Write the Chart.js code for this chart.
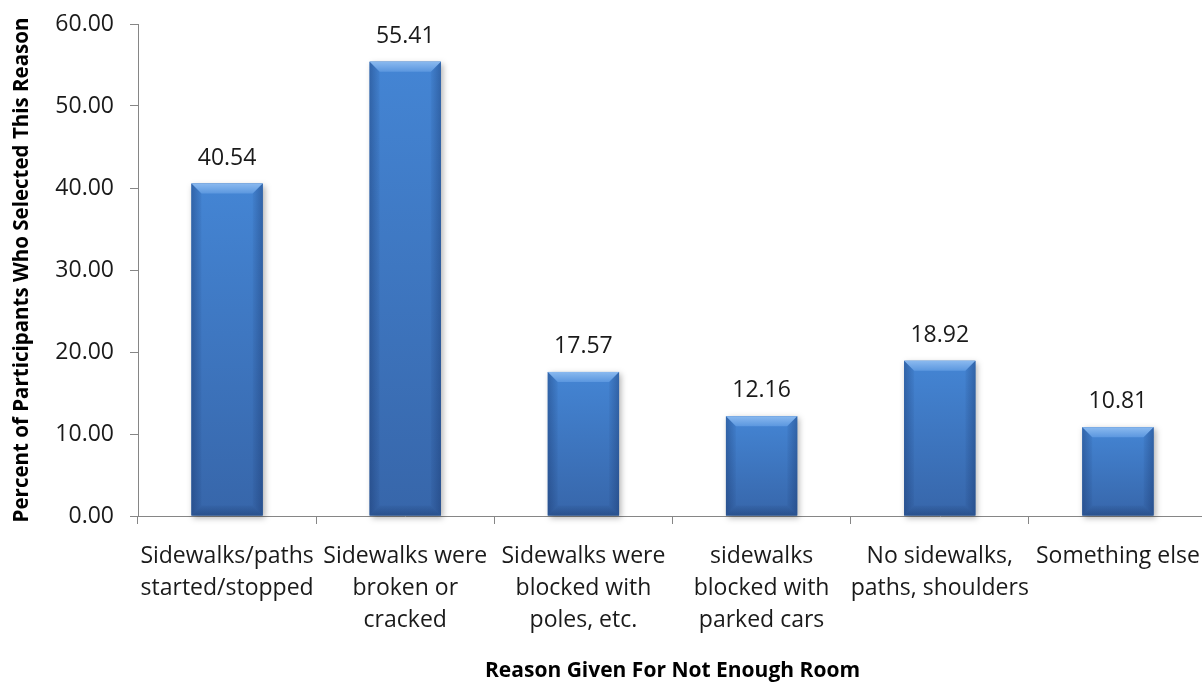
<!DOCTYPE html>
<html>
<head>
<meta charset="utf-8">
<script src="https://cdn.jsdelivr.net/npm/chart.js@4.4.0/dist/chart.umd.min.js"></script>
<style>
    html, body { margin: 0; padding: 0; background: #fff; overflow: hidden; }
    #wrap { width: 1212px; height: 688px; }
</style>
</head>
<body>
<div id="wrap"><canvas id="chart"></canvas></div>
<script>
// Категории и значения
const reasons = [
    ['Sidewalks/paths', 'started/stopped'],
    ['Sidewalks were', 'broken or', 'cracked'],
    ['Sidewalks were', 'blocked with', 'poles, etc.'],
    ['sidewalks', 'blocked with', 'parked cars'],
    ['No sidewalks,', 'paths, shoulders'],
    ['Something else']
];
const percents = [40.54, 55.41, 17.57, 12.16, 18.92, 10.81];
const yTicks = [0, 10, 20, 30, 40, 50, 60];

const FONT = 'Open Sans';
const AXIS = '#868686';

// Объёмные столбцы: градиент, фаска и тень
const bevelBars = {
    id: 'bevelBars',
    afterDatasetsDraw(chart) {
        const ctx = chart.ctx;
        const meta = chart.getDatasetMeta(0);
        meta.data.forEach(bar => {
            const p = bar.getProps(['x', 'y', 'base', 'width'], true);
            const l = p.x - p.width / 2, r = p.x + p.width / 2;
            const t = p.y, b = p.base;
            const bv = 10;

            ctx.save();
            ctx.shadowColor = 'rgba(0,0,0,0.3)';
            ctx.shadowBlur = 6;
            ctx.shadowOffsetX = 2;
            ctx.shadowOffsetY = 2;
            const g = ctx.createLinearGradient(0, t, 0, b);
            g.addColorStop(0, '#4485d4');
            g.addColorStop(1, '#3766aa');
            ctx.fillStyle = g;
            ctx.fillRect(l, t, r - l, b - t);
            ctx.restore();

            ctx.save();
            // верхняя грань
            const gt = ctx.createLinearGradient(0, t, 0, t + bv);
            gt.addColorStop(0, '#8ab9ef');
            gt.addColorStop(1, '#5b97df');
            ctx.fillStyle = gt;
            ctx.beginPath();
            ctx.moveTo(l, t); ctx.lineTo(r, t);
            ctx.lineTo(r - bv, t + bv); ctx.lineTo(l + bv, t + bv);
            ctx.closePath(); ctx.fill();
            // боковые грани
            const gl = ctx.createLinearGradient(l, 0, l + bv, 0);
            gl.addColorStop(0, 'rgba(15,40,90,0.35)');
            gl.addColorStop(1, 'rgba(15,40,90,0.05)');
            ctx.fillStyle = gl;
            ctx.beginPath();
            ctx.moveTo(l, t); ctx.lineTo(l + bv, t + bv);
            ctx.lineTo(l + bv, b - bv); ctx.lineTo(l, b);
            ctx.closePath(); ctx.fill();
            const gr = ctx.createLinearGradient(r, 0, r - bv, 0);
            gr.addColorStop(0, 'rgba(15,40,90,0.35)');
            gr.addColorStop(1, 'rgba(15,40,90,0.05)');
            ctx.fillStyle = gr;
            ctx.beginPath();
            ctx.moveTo(r, t); ctx.lineTo(r - bv, t + bv);
            ctx.lineTo(r - bv, b - bv); ctx.lineTo(r, b);
            ctx.closePath(); ctx.fill();
            // нижняя грань
            const gb = ctx.createLinearGradient(0, b, 0, b - bv);
            gb.addColorStop(0, 'rgba(15,40,85,0.35)');
            gb.addColorStop(1, 'rgba(15,40,85,0.05)');
            ctx.fillStyle = gb;
            ctx.beginPath();
            ctx.moveTo(l, b); ctx.lineTo(r, b);
            ctx.lineTo(r - bv, b - bv); ctx.lineTo(l + bv, b - bv);
            ctx.closePath(); ctx.fill();
            ctx.restore();
        });
    }
};

// Подписи значений над столбцами
const valueLabels = {
    id: 'valueLabels',
    afterDatasetsDraw(chart) {
        const ctx = chart.ctx;
        const meta = chart.getDatasetMeta(0);
        ctx.save();
        ctx.font = `23px ${FONT}`;
        ctx.fillStyle = '#1a1a1a';
        ctx.textAlign = 'center';
        ctx.textBaseline = 'alphabetic';
        meta.data.forEach((bar, i) => {
            ctx.fillText(percents[i].toFixed(2), bar.x, bar.y - 19);
        });
        ctx.restore();
    }
};

function initChart() {
    new Chart(document.getElementById('chart'), {
        type: 'bar',
        data: {
            labels: reasons,
            datasets: [{
                data: percents,
                backgroundColor: '#3f78c0',
                barPercentage: 0.4,
                categoryPercentage: 1.0
            }]
        },
        options: {
            responsive: true,
            maintainAspectRatio: false,
            animation: false,
            layout: { padding: { top: 24, right: 5, left: 0, bottom: 0 } },
            plugins: {
                legend: { display: false },
                tooltip: { enabled: false }
            },
            scales: {
                y: {
                    min: 0,
                    max: 60,
                    afterBuildTicks: axis => { axis.ticks = yTicks.map(v => ({ value: v })); },
                    afterFit: axis => {
                        axis.width = 138;
                        axis.paddingTop = 0;
                        axis.paddingBottom = 0;
                    },
                    border: { color: AXIS, width: 1 },
                    grid: { drawOnChartArea: false, drawTicks: true, tickLength: 8, color: AXIS },
                    ticks: {
                        color: '#1a1a1a',
                        font: { family: FONT, size: 23 },
                        padding: 16,
                        callback: v => v.toFixed(2)
                    },
                    title: {
                        display: true,
                        text: 'Percent of Participants Who Selected This Reason',
                        color: '#000',
                        font: { family: FONT, size: 20.5, weight: 'bold' },
                        padding: { top: 10, bottom: 0 }
                    }
                },
                x: {
                    afterFit: axis => {
                        axis.height = 172;
                        axis.paddingLeft = 0;
                        axis.paddingRight = 0;
                    },
                    border: { color: AXIS, width: 1 },
                    grid: { drawOnChartArea: false, drawTicks: true, tickLength: 8, color: AXIS, offset: true },
                    ticks: {
                        color: '#1a1a1a',
                        font: { family: FONT, size: 23, lineHeight: 1.38 },
                        padding: 17,
                        maxRotation: 0,
                        autoSkip: false
                    },
                    title: {
                        display: true,
                        text: 'Reason Given For Not Enough Room',
                        color: '#000',
                        font: { family: FONT, size: 21, weight: 'bold' },
                        padding: { top: 30, bottom: 4 }
                    }
                }
            }
        },
        plugins: [bevelBars, valueLabels]
    });
}

document.addEventListener('DOMContentLoaded', initChart);
</script>
</body>
</html>
